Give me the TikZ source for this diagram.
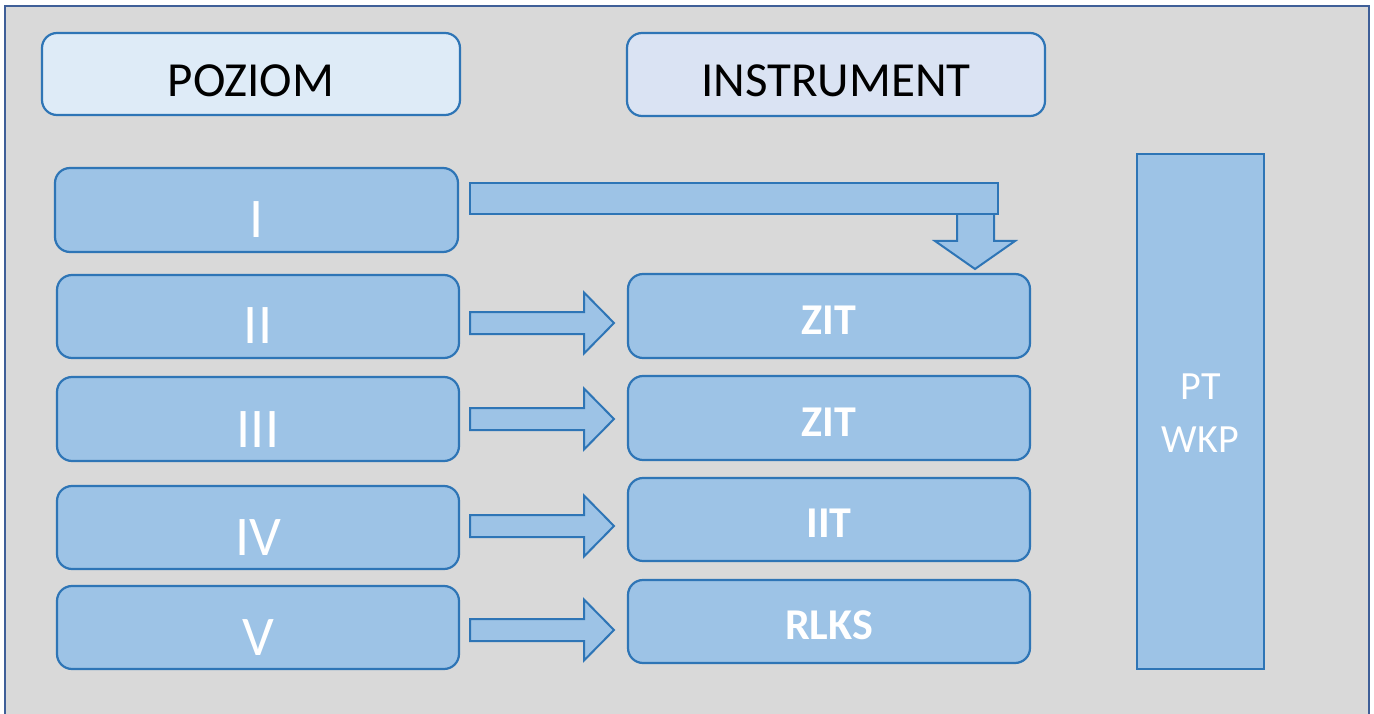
\documentclass[tikz,border=0pt]{standalone}
\usepackage{fontspec}
\setmainfont{Carlito}
\definecolor{bgc}{HTML}{D9D9D9}
\definecolor{boxc}{HTML}{9DC3E6}
\definecolor{bordc}{HTML}{2E75B6}
\definecolor{hdrA}{HTML}{DEEBF7}
\definecolor{hdrB}{HTML}{DAE3F3}
\definecolor{framec}{HTML}{3F5F98}
\begin{document}
\begin{tikzpicture}[x=1pt,y=-1pt,
  box/.style={draw=bordc, fill=boxc, line width=2.2pt, rounded corners=15pt, inner sep=0pt},
  hdrbox/.style={box},
  tallbox/.style={draw=bordc, fill=boxc, line width=2.4pt, inner sep=0pt},
  hdrtxt/.style={inner sep=0pt, text=black, font=\fontsize{49}{59}\selectfont},
  numtxt/.style={inner sep=0pt, text=white, font=\fontsize{56}{67}\selectfont},
  insttxt/.style={inner sep=0pt, text=white, font=\bfseries\fontsize{44}{53}\selectfont},
  pttxt/.style={inner sep=0pt, text=white, align=center, font=\fontsize{40}{53}\selectfont},
  blockarrow/.style={draw=bordc, fill=boxc, line width=2pt, line join=miter}
]
\useasboundingbox (0,0) rectangle (1374,714);
\fill[white] (0,0) rectangle (1374,714);
\draw[framec, line width=2pt, fill=bgc] (5,6) rectangle (1369,740);

% headers
\node[hdrbox, fill=hdrA, minimum width=418pt, minimum height=82pt] (hPoz) at (251,74) {};
\node[hdrtxt, anchor=base] (tPoz) at ([yshift=-23pt]hPoz.center) {POZIOM};
\node[hdrbox, fill=hdrB, minimum width=418pt, minimum height=83pt] (hIns) at (836,74.5) {};
\node[hdrtxt, anchor=base] (tIns) at ([yshift=-22pt]hIns.center) {INSTRUMENT};

% levels
\node[box, minimum width=403pt, minimum height=84pt] (bI) at (256.5,210) {};
\node[box, minimum width=402pt, minimum height=83pt] (bII) at (258,316.5) {};
\node[box, minimum width=402pt, minimum height=84pt] (bIII) at (258,419) {};
\node[box, minimum width=402pt, minimum height=83pt] (bIV) at (258,527.5) {};
\node[box, minimum width=402pt, minimum height=83pt] (bV) at (258,627.5) {};
\node[numtxt, anchor=base] (tI) at ([yshift=-28pt]bI.center) {I};
\node[numtxt, anchor=base] (tII) at ([yshift=-27pt]bII.center) {II};
\node[numtxt, anchor=base] (tIII) at ([yshift=-28pt]bIII.center) {III};
\node[numtxt, anchor=base] (tIV) at ([yshift=-28pt]bIV.center) {IV};
\node[numtxt, anchor=base] (tV) at ([yshift=-28pt]bV.center) {V};

% instruments
\node[box, minimum width=402pt, minimum height=84pt] (iA) at (829,316) {};
\node[box, minimum width=402pt, minimum height=84pt] (iB) at (829,418) {};
\node[box, minimum width=402pt, minimum height=83pt] (iC) at (829,519.5) {};
\node[box, minimum width=402pt, minimum height=83pt] (iD) at (829,621.5) {};
\node[insttxt, anchor=base] (tA) at ([yshift=-18pt]iA.center) {ZIT};
\node[insttxt, anchor=base] (tB) at ([yshift=-18pt]iB.center) {ZIT};
\node[insttxt, anchor=base] (tC) at ([yshift=-18pt]iC.center) {IIT};
\node[insttxt, anchor=base] (tD) at ([yshift=-18pt]iD.center) {RLKS};

% PT WKP
\node[tallbox, minimum width=127pt, minimum height=515pt] (pt) at (1200.5,411.5) {};
\node[pttxt] (tpt) at ([yshift=-2pt]pt.center) {PT\\WKP};

% bent arrow from I
\draw[blockarrow] (957,212) -- (994,212) -- (994,241) -- (1015,241) -- (975,269)
  -- (935,241) -- (957,241) -- cycle;
\draw[blockarrow] (470,183) rectangle (998,214);

% right arrows
\foreach \yy in {323,419,526,630}{
  \draw[blockarrow] (470,\yy-11) -- (584,\yy-11) -- (584,\yy-30.5) -- (614,\yy)
    -- (584,\yy+30.5) -- (584,\yy+11) -- (470,\yy+11) -- cycle;
}
\end{tikzpicture}
\end{document}
